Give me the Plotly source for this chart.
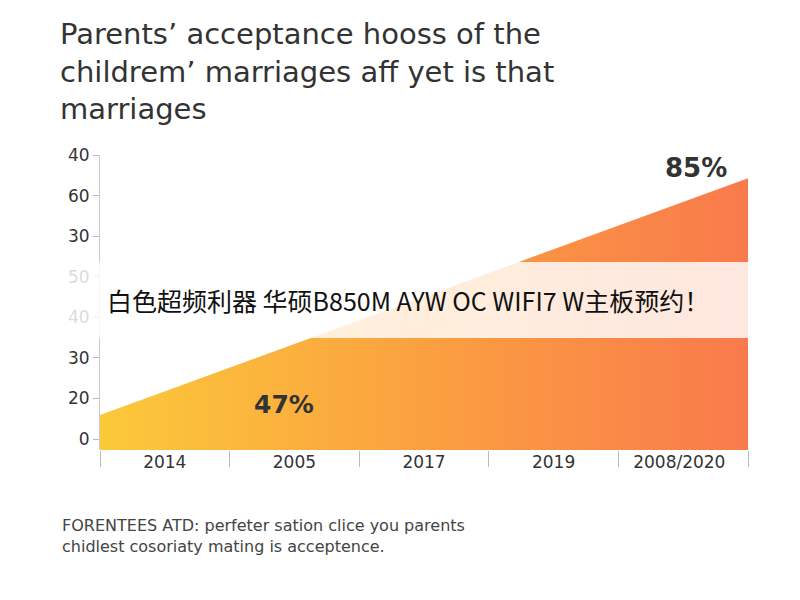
import plotly.graph_objects as go

# data (axis units: y tick positions 0..7)
x_line = [0, 5]
y_line = [0.59, 6.43]
base_y = -0.27
x_labels = ["2014", "2005", "2017", "2019", "2008/2020"]
x_label_pos = [0.5, 1.5, 2.5, 3.5, 4.47]
y_tickvals = [0, 1, 2, 3, 4, 5, 6, 7]
y_ticktext = ["0", "20", "30", "40", "50", "30", "60", "40"]
label_low, label_high = "47%", "85%"

F = "DejaVu Sans"
fig = go.Figure()
fig.add_trace(go.Scatter(x=x_line, y=[base_y, base_y], mode="lines",
                         line=dict(width=0), showlegend=False, hoverinfo="skip"))
fig.add_trace(go.Scatter(x=x_line, y=y_line, mode="lines", line=dict(width=0, color="#f98a45"),
                         fill="tonexty",
                         fillgradient=dict(type="horizontal",
                                           colorscale=[[0, "#fbc93a"], [0.5, "#fba040"], [1, "#f97a4c"]]),
                         showlegend=False))

fig.add_annotation(x=1.42, y=0.85, text=f"<b>{label_low}</b>", showarrow=False,
                   font=dict(size=25, color="#333", family=F))
fig.add_annotation(x=4.6, y=6.67, text=f"<b>{label_high}</b>", showarrow=False,
                   font=dict(size=26, color="#333", family=F))

fig.add_shape(type="rect", xref="paper", yref="paper", x0=-92/648, x1=708/648,
              y0=0.38, y1=0.637, fillcolor="rgba(255,255,255,0.82)", line=dict(width=0), layer="above")
fig.add_annotation(xref="paper", yref="paper", x=0.475, y=0.508,
                   text="白色超频利器 华硕B850M AYW OC WIFI7 W主板预约！", showarrow=False,
                   font=dict(size=25, color="#111", family="Noto Sans CJK SC"))
fig.add_annotation(xref="paper", yref="paper", x=-0.062, y=-0.29, xanchor="left", yanchor="middle",
                   align="left", showarrow=False,
                   text="FORENTEES ATD: perfeter sation clice you parents<br>chidlest cosoriaty mating is acceptence.",
                   font=dict(size=16, color="#444", family=F))

fig.update_layout(
    width=800, height=600, paper_bgcolor="white", plot_bgcolor="white",
    margin=dict(l=92, r=60, t=147, b=158),
    font=dict(family=F),
    title=dict(text="Parents’ acceptance hooss of the<br>childrem’ marriages aff yet is that<br>marriages",
               x=52/800, xanchor="left", xref="container", y=0.94, yanchor="top",
               font=dict(size=29, color="#333", family=F)),
    xaxis=dict(range=[0, 5], tickvals=x_label_pos, ticktext=x_labels, ticks="", showgrid=False,
               zeroline=False, tickfont=dict(size=17, color="#333"), showline=False,
               minor=dict(tick0=0, dtick=1, ticks="outside", ticklen=16, tickcolor="#bbb")),
    yaxis=dict(range=[base_y, 7], tickvals=y_tickvals, ticktext=y_ticktext, showgrid=False,
               zeroline=False, showline=True, linecolor="#ccc", ticks="outside", ticklen=6,
               tickcolor="#bbb", tickfont=dict(size=17, color="#333")),
)
fig.write_html("out.html")
